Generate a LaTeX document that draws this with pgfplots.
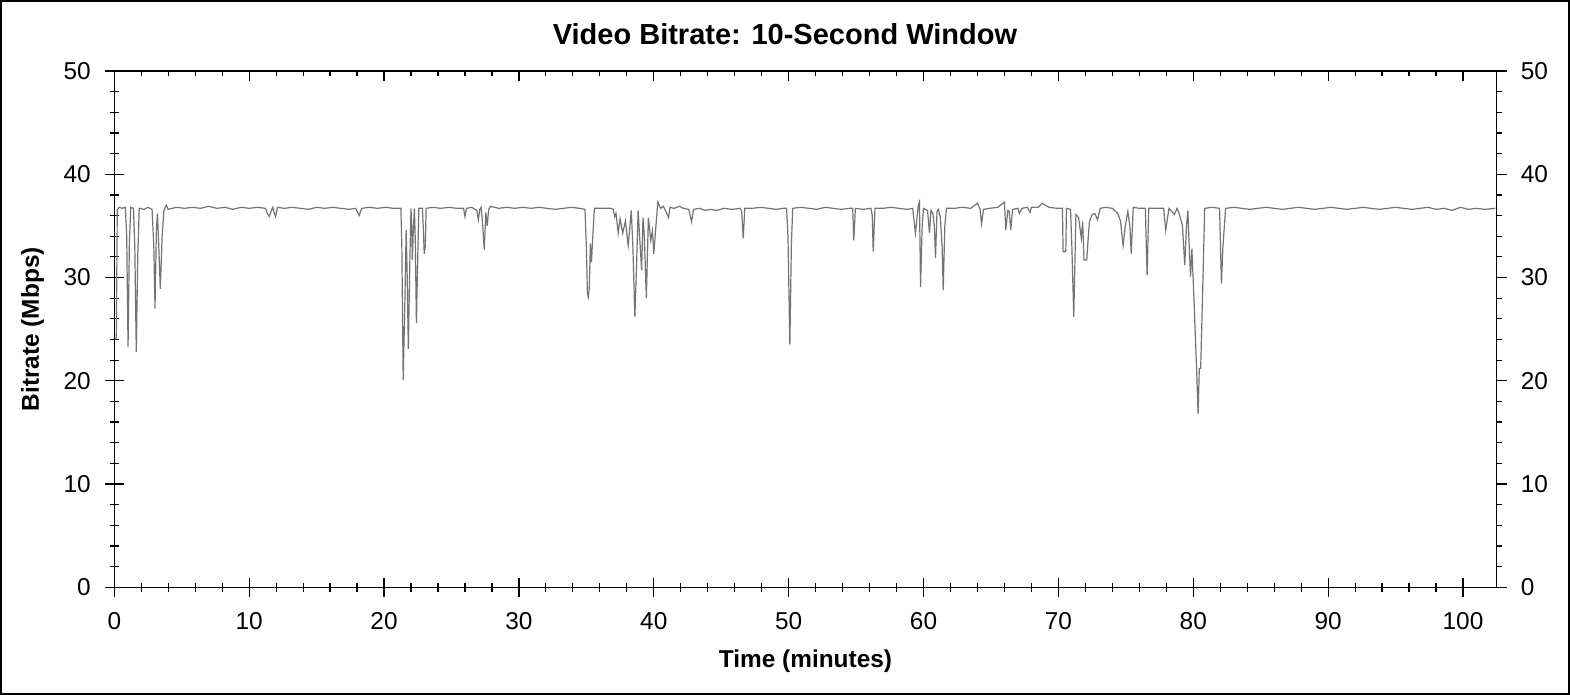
\documentclass[border=0pt]{standalone}
\usepackage{fontspec}
\setmainfont{Liberation Sans}
\usepackage{pgfplots}
\pgfplotsset{compat=1.18}
\usepackage{pgfplotstable}

% bitrate in Mbps against time in minutes
\pgfplotstableread{
t rate
0.05 24.0
0.15 24.2
0.22 36.5
0.35 36.8
0.6 36.7
0.82 36.8
0.92 34.0
1.02 23.3
1.12 33.5
1.22 36.8
1.42 36.7
1.52 33.0
1.63 22.8
1.74 32.0
1.85 36.7
2.2 36.6
2.5 36.8
2.8 36.6
2.93 33.0
3.02 27.0
3.12 34.5
3.2 36.2
3.3 33.0
3.41 28.9
3.55 34.0
3.68 36.5
3.85 37.0
4.0 36.6
4.6 36.8
5.2 36.7
5.8 36.8
6.4 36.7
7.0 36.9
7.6 36.7
8.2 36.8
8.8 36.6
9.4 36.8
10.0 36.7
10.6 36.8
11.2 36.7
11.35 36.2
11.49 35.9
11.65 36.5
11.75 36.8
11.85 36.3
11.96 35.9
12.1 36.8
12.6 36.7
13.2 36.8
13.8 36.7
14.4 36.6
15.0 36.8
15.6 36.7
16.2 36.8
16.8 36.7
17.4 36.6
17.9 36.7
18.16 36.0
18.35 36.7
18.9 36.8
19.5 36.7
20.1 36.8
20.7 36.7
21.25 36.7
21.32 33.0
21.42 20.1
21.55 28.0
21.64 34.6
21.72 30.0
21.8 23.1
21.92 32.0
22.0 36.7
22.05 35.0
22.1 31.7
22.17 34.5
22.25 36.7
22.32 33.5
22.4 25.6
22.5 32.0
22.58 36.7
22.85 36.7
22.92 34.5
22.98 32.3
23.06 33.0
23.12 36.7
23.6 36.8
24.2 36.7
24.8 36.8
25.4 36.7
25.9 36.7
26.0 35.9
26.12 36.7
26.5 36.8
26.88 36.5
26.99 35.6
27.1 36.6
27.2 36.8
27.32 35.0
27.43 32.7
27.55 36.3
27.65 35.0
27.76 36.6
27.9 36.9
28.5 36.7
29.1 36.8
29.7 36.7
30.3 36.8
30.9 36.7
31.5 36.8
32.1 36.7
32.7 36.6
33.3 36.7
33.9 36.8
34.5 36.7
34.9 36.6
35.0 33.0
35.08 28.5
35.14 28.1
35.22 29.0
35.3 33.3
35.38 31.5
35.5 34.5
35.6 36.7
36.2 36.7
36.8 36.7
37.0 36.6
37.1 35.9
37.2 36.2
37.36 34.3
37.5 35.7
37.7 34.3
37.9 35.5
38.1 33.1
38.2 34.5
38.33 36.5
38.45 33.0
38.6 26.2
38.72 31.0
38.84 36.5
38.95 34.0
39.1 30.7
39.2 35.8
39.3 34.0
39.45 28.0
39.6 35.8
39.78 33.6
39.9 34.5
40.0 32.3
40.1 34.0
40.3 37.3
40.5 36.7
40.7 36.9
40.9 36.4
41.1 35.8
41.2 36.8
41.5 36.7
41.9 36.9
42.2 36.7
42.6 36.6
42.7 36.0
42.8 35.4
42.95 36.6
43.4 36.7
43.8 36.5
44.2 36.6
44.7 36.5
45.2 36.7
45.8 36.6
46.4 36.7
46.52 36.4
46.63 33.8
46.75 36.7
47.3 36.7
47.9 36.8
48.5 36.7
49.1 36.6
49.6 36.7
49.85 36.7
49.95 34.0
50.09 23.5
50.2 33.0
50.3 36.7
50.9 36.8
51.5 36.7
52.1 36.6
52.7 36.8
53.3 36.7
53.9 36.6
54.5 36.7
54.75 36.7
54.83 33.6
54.95 36.7
55.5 36.6
56.1 36.7
56.2 36.0
56.27 32.5
56.4 36.7
57.0 36.7
57.6 36.8
58.2 36.7
58.8 36.6
59.2 36.7
59.3 35.5
59.4 34.3
59.5 35.5
59.6 36.9
59.7 37.3
59.78 29.1
59.9 35.0
60.0 36.7
60.3 36.5
60.44 34.3
60.55 36.5
60.7 36.2
60.8 35.0
60.89 31.9
61.0 36.4
61.1 36.6
61.25 35.8
61.38 33.0
61.46 28.8
61.58 35.0
61.7 36.7
62.3 36.7
62.9 36.8
63.5 36.7
64.0 37.2
64.2 36.6
64.3 35.2
64.45 36.6
64.9 36.7
65.5 36.8
66.0 37.3
66.1 34.6
66.25 36.5
66.35 36.4
66.47 34.6
66.6 36.6
67.0 36.7
67.1 36.2
67.3 36.7
67.7 36.8
67.9 36.3
68.0 36.8
68.5 36.8
68.8 37.2
69.3 36.8
69.9 36.7
70.3 36.7
70.35 32.5
70.55 32.5
70.6 36.7
70.9 36.6
71.0 33.0
71.14 26.2
71.3 36.1
71.5 35.8
71.7 33.8
71.8 35.4
71.9 31.7
72.1 31.7
72.3 35.4
72.5 36.1
72.7 36.2
72.9 35.6
73.1 36.7
73.5 36.8
74.0 36.7
74.4 36.2
74.6 35.5
74.8 33.1
74.95 34.9
75.15 36.4
75.3 35.0
75.4 32.3
75.55 36.8
76.0 36.7
76.45 36.7
76.52 33.0
76.58 30.2
76.7 36.7
77.3 36.7
77.8 36.7
77.96 34.6
78.2 36.7
78.6 36.1
78.8 36.7
79.0 36.0
79.2 35.0
79.37 31.2
79.5 35.0
79.6 36.5
79.7 33.0
79.8 30.1
79.9 32.8
80.05 28.0
80.24 21.4
80.36 16.8
80.45 21.2
80.55 21.2
80.7 28.8
80.85 36.7
81.4 36.8
81.95 36.7
82.02 33.0
82.09 29.4
82.2 33.0
82.4 36.7
83.0 36.8
83.6 36.7
84.2 36.6
84.8 36.7
85.4 36.8
86.0 36.7
86.6 36.6
87.2 36.7
87.8 36.8
88.4 36.7
89.0 36.6
89.6 36.7
90.2 36.8
90.8 36.7
91.4 36.6
92.0 36.7
92.6 36.8
93.2 36.7
93.8 36.6
94.4 36.7
95.0 36.8
95.6 36.7
96.2 36.6
96.8 36.7
97.4 36.8
98.0 36.6
98.6 36.7
99.2 36.5
99.8 36.8
100.4 36.6
101.0 36.7
101.6 36.6
102.4 36.7
}\bitrate

\pgfplotsset{
  frame/.style={
    scale only axis,
    width=691.2pt, height=258.15pt,
    at={(57.15pt,-293.65pt)}, anchor=south west,
    xmin=0, xmax=102.5, ymin=0, ymax=50,
    xtick distance=10, ytick distance=10,
    minor x tick num=4, minor y tick num=4,
    tick style={black, line width=0.6pt},
    axis line style={line width=0.6pt},
    ticklabel style={font=\fontsize{12.2}{14}\selectfont},
    /pgf/number format/assume math mode=true,
  },
}

\begin{document}
\begin{tikzpicture}
  \useasboundingbox (0,0) rectangle (785pt,-347.5pt);
  \draw[line width=1pt] (0.5pt,-0.5pt) rectangle (784.5pt,-347pt);

  \node[anchor=base, font=\bfseries\fontsize{14.5}{17}\selectfont]
    at (392.5pt,-22.15pt) {Video Bitrate: 10-Second Window};

  % left and bottom: data, labels
  \begin{axis}[
    frame,
    axis x line*=bottom, axis y line*=left,
    tick align=center,
    major tick length=9.5pt, minor tick length=4.5pt,
    xticklabel style={yshift=-4.5pt},
    yticklabel style={xshift=-3.5pt},
    xlabel={Time (minutes)},
    ylabel={Bitrate (Mbps)},
    label style={font=\bfseries\fontsize{12.2}{14}\selectfont},
    xlabel style={at={(axis description cs:0.5,-0.1544)}, anchor=base},
    ylabel style={at={(axis description cs:-0.0545,0.5)}, anchor=base},
  ]
    \addplot[color=black!55, line width=0.6pt] table[x=t, y=rate] {\bitrate};
  \end{axis}

  % top ticks
  \begin{axis}[
    frame,
    axis x line*=top, hide y axis,
    tick align=inside,
    major tick length=4.85pt, minor tick length=2.5pt,
    xticklabels={},
  ]
  \end{axis}

  % right ticks and labels
  \begin{axis}[
    frame,
    axis y line*=right, hide x axis,
    tick align=outside,
    major tick length=5pt, minor tick length=2.5pt,
    yticklabel style={xshift=3.5pt},
  ]
  \end{axis}
\end{tikzpicture}
\end{document}
